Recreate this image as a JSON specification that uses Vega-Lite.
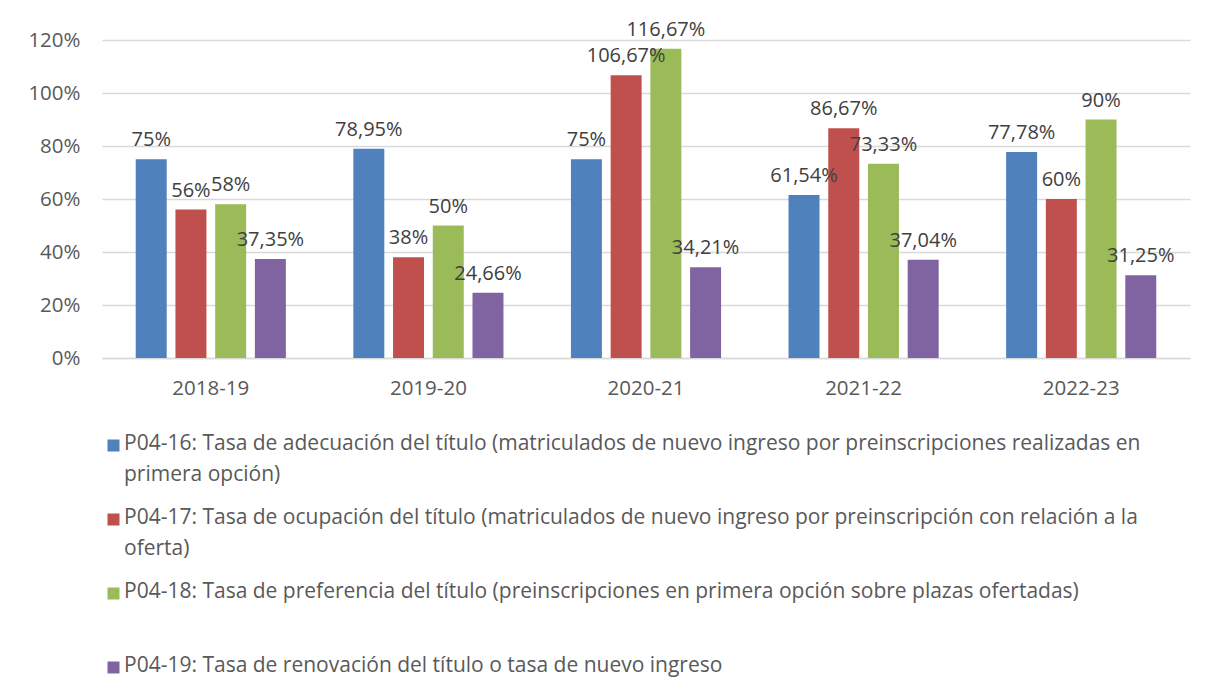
{
  "$schema": "https://vega.github.io/schema/vega-lite/v6.json",
  "width": 1088,
  "height": 318,
  "autosize": {"type": "none"},
  "padding": {"left": 102, "top": 40, "right": 23, "bottom": 335},
  "background": "white",
  "config": {
    "locale": {"number": {"decimal": ",", "thousands": ".", "grouping": [3], "currency": ["", " €"]}},
    "view": {"stroke": null},
    "font": "Open Sans"
  },
  "data": {
    "values": [
      {"curso": "2018-19", "serie": "P04-16: Tasa de adecuación del título (matriculados de nuevo ingreso por preinscripciones realizadas en primera opción)", "valor": 0.75},
      {"curso": "2018-19", "serie": "P04-17: Tasa de ocupación del título (matriculados de nuevo ingreso por preinscripción con relación a la oferta)", "valor": 0.56},
      {"curso": "2018-19", "serie": "P04-18: Tasa de preferencia del título (preinscripciones en primera opción sobre plazas ofertadas)", "valor": 0.58},
      {"curso": "2018-19", "serie": "P04-19: Tasa de renovación del título o tasa de nuevo ingreso", "valor": 0.3735},
      {"curso": "2019-20", "serie": "P04-16: Tasa de adecuación del título (matriculados de nuevo ingreso por preinscripciones realizadas en primera opción)", "valor": 0.7895},
      {"curso": "2019-20", "serie": "P04-17: Tasa de ocupación del título (matriculados de nuevo ingreso por preinscripción con relación a la oferta)", "valor": 0.38},
      {"curso": "2019-20", "serie": "P04-18: Tasa de preferencia del título (preinscripciones en primera opción sobre plazas ofertadas)", "valor": 0.5},
      {"curso": "2019-20", "serie": "P04-19: Tasa de renovación del título o tasa de nuevo ingreso", "valor": 0.2466},
      {"curso": "2020-21", "serie": "P04-16: Tasa de adecuación del título (matriculados de nuevo ingreso por preinscripciones realizadas en primera opción)", "valor": 0.75},
      {"curso": "2020-21", "serie": "P04-17: Tasa de ocupación del título (matriculados de nuevo ingreso por preinscripción con relación a la oferta)", "valor": 1.0667},
      {"curso": "2020-21", "serie": "P04-18: Tasa de preferencia del título (preinscripciones en primera opción sobre plazas ofertadas)", "valor": 1.1667},
      {"curso": "2020-21", "serie": "P04-19: Tasa de renovación del título o tasa de nuevo ingreso", "valor": 0.3421},
      {"curso": "2021-22", "serie": "P04-16: Tasa de adecuación del título (matriculados de nuevo ingreso por preinscripciones realizadas en primera opción)", "valor": 0.6154},
      {"curso": "2021-22", "serie": "P04-17: Tasa de ocupación del título (matriculados de nuevo ingreso por preinscripción con relación a la oferta)", "valor": 0.8667},
      {"curso": "2021-22", "serie": "P04-18: Tasa de preferencia del título (preinscripciones en primera opción sobre plazas ofertadas)", "valor": 0.7333},
      {"curso": "2021-22", "serie": "P04-19: Tasa de renovación del título o tasa de nuevo ingreso", "valor": 0.3704},
      {"curso": "2022-23", "serie": "P04-16: Tasa de adecuación del título (matriculados de nuevo ingreso por preinscripciones realizadas en primera opción)", "valor": 0.7778},
      {"curso": "2022-23", "serie": "P04-17: Tasa de ocupación del título (matriculados de nuevo ingreso por preinscripción con relación a la oferta)", "valor": 0.6},
      {"curso": "2022-23", "serie": "P04-18: Tasa de preferencia del título (preinscripciones en primera opción sobre plazas ofertadas)", "valor": 0.9},
      {"curso": "2022-23", "serie": "P04-19: Tasa de renovación del título o tasa de nuevo ingreso", "valor": 0.3125}
    ]
  },
  "encoding": {
    "x": {
      "field": "curso", "type": "nominal", "sort": null,
      "scale": {"paddingInner": 0.31, "paddingOuter": 0.155},
      "axis": {"title": null, "labelAngle": 0, "labelFontSize": 20.5, "labelColor": "#595959", "ticks": false, "tickSize": 0, "labelPadding": 20, "domainColor": "#d9d9d9", "domainWidth": 1.5, "grid": false}
    },
    "xOffset": {"field": "serie", "type": "nominal", "sort": null, "scale": {"paddingInner": 0.22, "paddingOuter": 0}},
    "y": {
      "field": "valor", "type": "quantitative",
      "scale": {"domain": [0, 1.2], "nice": false},
      "axis": {"title": null, "format": ".0%", "values": [0, 0.2, 0.4, 0.6, 0.8, 1, 1.2], "labelFontSize": 20.5, "labelColor": "#595959", "ticks": false, "tickSize": 0, "labelPadding": 22, "domain": false, "gridColor": "#d9d9d9", "gridWidth": 1.5}
    }
  },
  "layer": [
    {
      "mark": {"type": "bar"},
      "encoding": {
        "color": {
          "field": "serie", "type": "nominal", "sort": null,
          "scale": {"range": ["#4F81BD", "#C0504D", "#9BBB59", "#8064A2"]},
          "legend": {
            "orient": "none", "legendX": 1, "legendY": 395, "direction": "vertical", "columns": 1,
            "title": null, "symbolType": "square", "symbolSize": 144, "symbolStrokeWidth": 0,
            "labelFontSize": 21, "labelColor": "#595959", "labelLimit": 1200, "rowPadding": 21,
            "labelOffset": 0, "padding": 0, "labelBaseline": "top",
            "labelExpr": "split(replace(replace(replace(datum.label, ' realizadas en ', ' realizadas en|'), ' a la oferta', ' a la|oferta'), 'ofertadas)', 'ofertadas)| '), '|')",
            "encode": {"labels": {"update": {"lineHeight": {"value": 31}, "dy": {"value": -13}}}}
          }
        }
      }
    },
    {
      "mark": {"type": "text", "baseline": "alphabetic", "dy": -13, "fontSize": 20, "color": "#404040"},
      "encoding": {"text": {"field": "valor", "type": "quantitative", "format": ".2~%"}}
    }
  ]
}
